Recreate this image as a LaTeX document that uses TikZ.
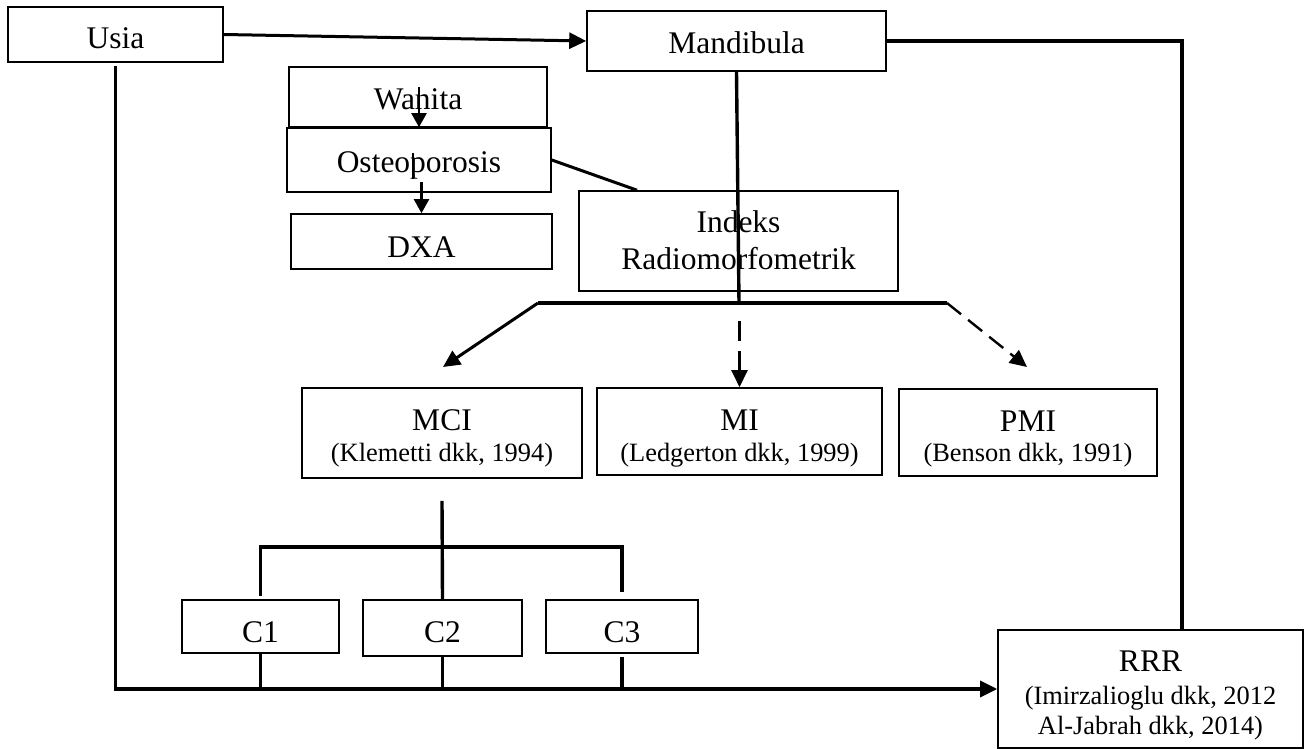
\documentclass[tikz,border=0pt]{standalone}
\usepackage{fontspec}
\setmainfont{Liberation Serif}
\usetikzlibrary{arrows.meta,calc}
\newcommand\smtxt{\fontsize{26.4}{30}\selectfont}
\begin{document}
\begin{tikzpicture}[x=1pt,y=-1pt,
  box/.style={draw,line width=1.6pt,inner sep=0pt,anchor=base,font=\fontsize{31.5}{31}\selectfont},
  conn/.style={line width=3.4pt},
  arr/.style={line width=3pt,-{Triangle[length=17pt,width=16pt]}},
  sarr/.style={line width=2.2pt,-{Triangle[length=14pt,width=15pt]}},
  darr/.style={line width=2.4pt,dash pattern=on 20pt off 10pt,-{Triangle[length=17pt,width=16pt]}},
  thinconn/.style={line width=2.2pt}
]
\fill[white] (0,0) rectangle (1310,749);
\useasboundingbox (0,0) rectangle (1310,749);

% boxes
\node[box,minimum width=215pt,text height=42pt,text depth=13pt] (usia) at (115.5,49) {Usia};
\node[box,minimum width=299pt,text height=43pt,text depth=17pt] (mand) at (736.5,54) {Mandibula};
\node[box,minimum width=258pt,text height=43pt,text depth=17pt] (wan) at (418,110) {Wanita};
\node[box,minimum width=264pt,text height=45pt,text depth=19pt] (ost) at (419,173) {Osteoporosis};
\node[box,minimum width=261pt,text height=43pt,text depth=12pt] (dxa) at (421.5,257) {DXA};
\node[box,minimum width=319pt,text height=41pt,text depth=59pt,font=\fontsize{31.5}{37}\selectfont] (ind) at (738.5,232)
  {\begin{tabular}[t]{@{}c@{}}Indeks\\Radiomorfometrik\end{tabular}};
\node[box,minimum width=280pt,text height=42pt,text depth=48pt] (mci) at (442,430)
  {\begin{tabular}[t]{@{}c@{}}MCI\\\smtxt (Klemetti dkk, 1994)\end{tabular}};
\node[box,minimum width=285pt,text height=42pt,text depth=45pt] (mi) at (739.5,430)
  {\begin{tabular}[t]{@{}c@{}}MI\\\smtxt (Ledgerton dkk, 1999)\end{tabular}};
\node[box,minimum width=258pt,text height=42pt,text depth=45pt,font=\fontsize{31.5}{30}\selectfont] (pmi) at (1028,431)
  {\begin{tabular}[t]{@{}c@{}}PMI\\\smtxt (Benson dkk, 1991)\end{tabular}};
\node[box,minimum width=157pt,text height=42pt,text depth=11pt] (c1) at (260.5,642) {C1};
\node[box,minimum width=159pt,text height=42pt,text depth=14pt] (c2) at (442.5,642) {C2};
\node[box,minimum width=152pt,text height=42pt,text depth=11pt] (c3) at (622,642) {C3};
\node[box,minimum width=305pt,text height=41pt,text depth=77pt,font=\fontsize{31.5}{30}\selectfont] (rrr) at (1150.5,671)
  {\begin{tabular}[t]{@{}c@{}}RRR\\[3pt]\smtxt (Imirzalioglu dkk, 2012\\\smtxt Al-Jabrah dkk, 2014)\end{tabular}};

% connectors
\draw[arr] (usia.east) -- (mand.west);
\draw[conn] (mand.east) -| ($(rrr.north)+(31.5,0)$);
\coordinate (barL) at (538,303);
\coordinate (barR) at (947,303);
\coordinate (barM) at (739,303);
\draw[conn] (mand.south) -- (barM);
\draw[conn] (barL) -- (barR);
\coordinate (mciTip) at (443,367);
\draw[arr] (barL) -- (mciTip);
\draw[darr] ($(mi.north)+(0,-66)$) -- (mi.north);
\coordinate (pmiTip) at (1027,367);
\draw[darr,dash pattern=on 18pt off 9pt] (barR) -- (pmiTip);
\draw[conn,line width=3pt] (ost.east) -- ($(ind.north)+(-101.5,0)$);
\draw[sarr] ($(wan.center)+(1,-10)$) -- (ost.north);
\draw[thinconn] ($(ost.center)+(-6,-7)$) -- ($(ost.center)+(-6,19)$);
\draw[sarr] ($(dxa.north)+(0,-31)$) -- (dxa.north);
\draw[conn] ($(mci.south)+(0,22)$) -- (c2.north);
\coordinate (cbar) at (442,547);
\draw[conn] ($(c1.north)+(0,-3)$) |- (cbar) -| ($(c3.north)+(0,-7)$);
\draw[conn,-{Triangle[length=17pt,width=16pt]}] ($(usia.south)+(0,3)$) |- (rrr.west);
\draw[conn] (c1.south) -- (c1.south |- rrr.west);
\draw[conn] (c2.south) -- (c2.south |- rrr.west);
\draw[conn] ($(c3.south)+(0,3)$) -- (c3.south |- rrr.west);
\end{tikzpicture}
\end{document}
